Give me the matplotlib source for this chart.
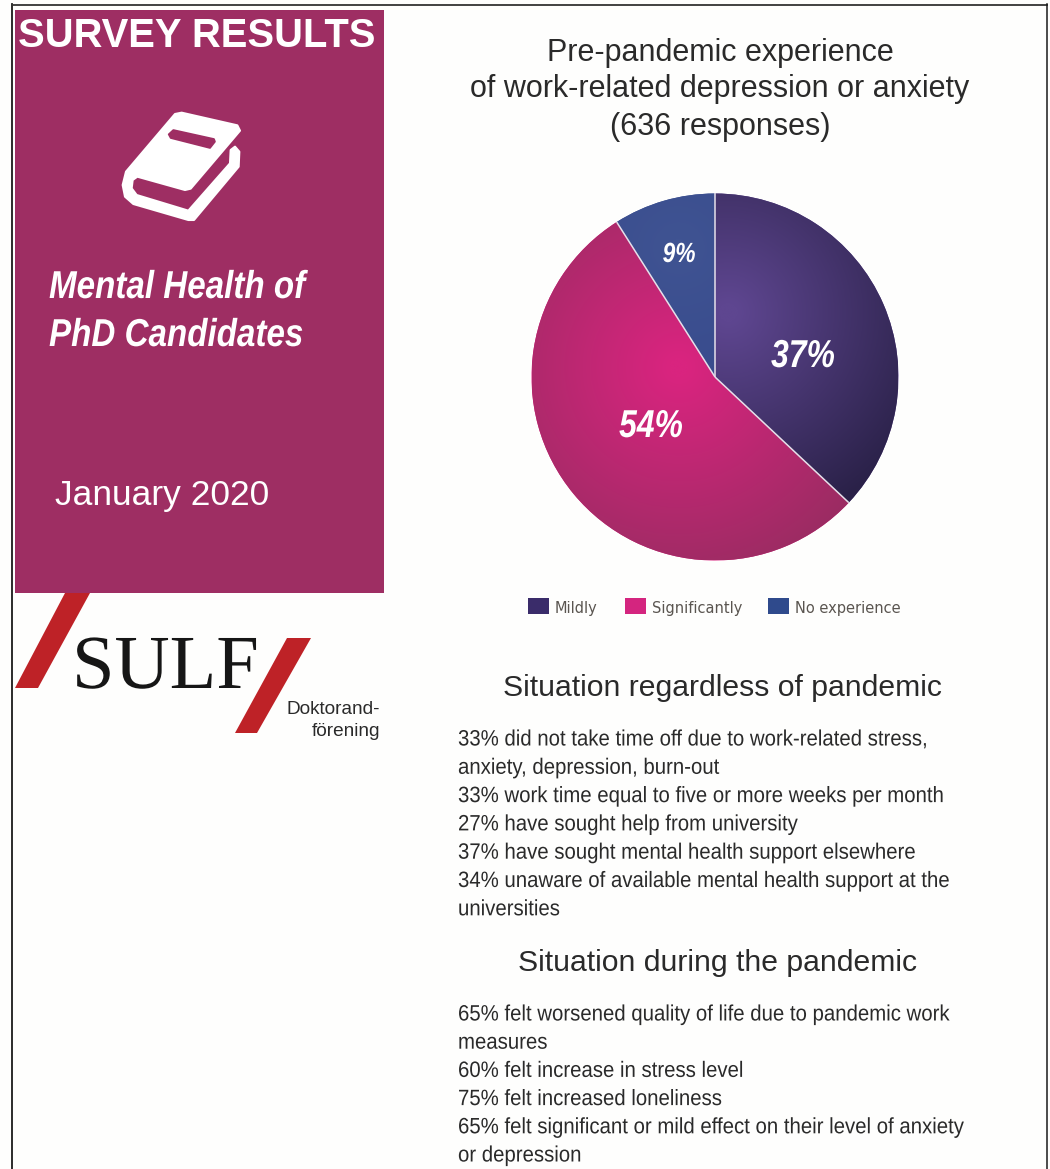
import numpy as np
import matplotlib
matplotlib.use("Agg")
import matplotlib.pyplot as plt
from matplotlib.patches import Polygon, Rectangle
from matplotlib.colors import LinearSegmentedColormap
from matplotlib.patheffects import AbstractPathEffect
from matplotlib.transforms import Affine2D

W, H = 1050, 1169

pie_labels = ["Mildly", "Significantly", "No experience"]
pie_values = [37, 54, 9]
pie_inner = ["#5E4690", "#D9247F", "#3F5392"]
pie_outer = ["#2A2148", "#9A2C62", "#34468A"]
pie_glow = [(0.07, 0.35), (-0.2, 0.05), (-0.2, 0.7)]
legend_colors = ["#3A2C6A", "#D4257F", "#2F4A8C"]

title_lines = ["Pre-pandemic experience", "of work-related depression or anxiety", "(636 responses)"]
regardless_lines = [
    "33% did not take time off due to work-related stress,",
    "anxiety, depression, burn-out",
    "33% work time equal to five or more weeks per month",
    "27% have sought help from university",
    "37% have sought mental health support elsewhere",
    "34% unaware of available mental health support at the",
    "universities",
]
during_lines = [
    "65% felt worsened quality of life due to pandemic work",
    "measures",
    "60% felt increase in stress level",
    "75% felt increased loneliness",
    "65% felt significant or mild effect on their level of anxiety",
    "or depression",
]


class Squeeze(AbstractPathEffect):
    """Narrow glyphs horizontally about a fixed pixel column."""

    def __init__(self, x0, sx):
        super().__init__()
        self.x0, self.sx = x0, sx

    def draw_path(self, renderer, gc, tpath, affine, rgbFace=None):
        squeezed = affine + Affine2D().translate(-self.x0, 0).scale(self.sx, 1).translate(self.x0, 0)
        renderer.draw_path(gc, tpath, squeezed, rgbFace)


plt.rcParams["font.family"] = ["Liberation Sans", "DejaVu Sans"]
fig = plt.figure(figsize=(W / 100, H / 100), dpi=100, facecolor="#FEFEFD")

# Page canvas in pixel coordinates with the origin at the top left
page = fig.add_axes([0, 0, 1, 1])
page.set_xlim(0, W)
page.set_ylim(H, 0)
page.axis("off")
page.set_zorder(2)

# Frame
FRAME = "#1A1A1A"
page.plot([12, 12], [4, H], color=FRAME, lw=1.3)
page.plot([12, 1047], [4.5, 4.5], color="#333333", lw=1.3)
page.plot([1047, 1047], [4, H], color=FRAME, lw=1.1)

# Title panel
PANEL = "#9E2E63"
page.add_patch(Rectangle((15, 10), 369, 583, color=PANEL, lw=0))
page.text(197, 36, "SURVEY RESULTS", color="white", fontsize=28.8, fontweight="bold", ha="center", va="center")
for y, line in zip([288, 336], ["Mental Health of", "PhD Candidates"]):
    page.text(49, y, line, color="white", fontsize=28, fontweight="bold", fontstyle="italic", va="center",
              path_effects=[Squeeze(49, 0.853)])
page.text(55, 496, "January 2020", color="white", fontsize=25.5, va="center")

# Book icon
book = np.array([(525, 342), (545, 338), (712, 376), (720, 392), (572, 566), (555, 570), (412, 530),
                 (398, 540), (395, 565), (410, 585), (565, 632), (690, 490), (692, 450), (705, 440),
                 (718, 455), (716, 500), (582, 660), (565, 660), (400, 612), (375, 590), (368, 555),
                 (378, 515)]) / 3
page.add_patch(Polygon(book, closed=True, fc="white", ec="white", lw=1.5, joinstyle="round"))
slot = np.array([(520, 390), (642, 417), (645, 425), (630, 444), (512, 414), (506, 403)]) / 3
page.add_patch(Polygon(slot, closed=True, fc=PANEL, ec=PANEL, lw=1.2, joinstyle="round"))

# Organisation logo
RED = "#BE2227"
slash_a = np.array([(65, 593), (90, 593), (38, 688), (15, 688)])
slash_b = np.array([(287, 638), (311, 638), (257, 733), (235, 733)])
page.add_patch(Polygon(slash_a, closed=True, color=RED, lw=0))
page.add_patch(Polygon(slash_b, closed=True, color=RED, lw=0))
page.text(72, 688, "SULF", family="Liberation Serif", fontsize=55, color="#161616", ha="left", va="baseline",
          path_effects=[Squeeze(72, 1.0)])
page.text(380, 709, "Doktorand-", fontsize=13.7, color="#2A2A2A", ha="right", va="center")
page.text(380, 732, "förening", fontsize=13.7, color="#2A2A2A", ha="right", va="center")

# Pie heading
for y, line in zip([53, 89, 127], title_lines):
    page.text(720, y, line, fontsize=22, color="#2A2A2A", ha="center", va="center")

# Pie with a radial shade inside each wedge
CX, CY, R = 715, 377, 183.5
pie_ax = fig.add_axes([(CX - R) / W, 1 - (CY + R) / H, 2 * R / W, 2 * R / H])
wedges, _ = pie_ax.pie(pie_values, startangle=90, counterclock=False, radius=1, center=(0, 0),
                       colors=pie_inner, wedgeprops=dict(edgecolor="none"))
gx, gy = np.meshgrid(np.linspace(-1, 1, 500), np.linspace(1, -1, 500))
for wedge, c0, c1, (hx, hy) in zip(wedges, pie_inner, pie_outer, pie_glow):
    cmap = LinearSegmentedColormap.from_list("shade", [c0, c1])
    im = pie_ax.imshow(np.hypot(gx - hx, gy - hy), extent=(-1, 1, -1, 1), cmap=cmap, vmin=0.05, vmax=1.2,
                       zorder=2, aspect="auto")
    im.set_clip_path(wedge)
    wedge.set_zorder(1)

# Thin pale separators along wedge boundaries
angle = 90.0
for value in pie_values:
    a = np.deg2rad(angle)
    pie_ax.plot([0, np.cos(a)], [0, np.sin(a)], color="#E6E0EA", lw=1.1, zorder=3, solid_capstyle="butt")
    angle -= value * 3.6
pie_ax.set_xlim(-1, 1)
pie_ax.set_ylim(-1, 1)

# Percent labels on the wedges
for (x, y, size), value in zip([(803, 357, 28), (651, 427, 28), (679, 255, 20)], pie_values):
    page.text(x, y, f"{value}%", color="white", fontsize=size, fontweight="bold", fontstyle="italic",
              ha="center", va="center", zorder=5, path_effects=[Squeeze(x, 0.82)])

# Legend
for sx, tx, label, color in zip([528, 625, 768], [555, 652, 795], pie_labels, legend_colors):
    page.add_patch(Rectangle((sx, 598), 21, 16, color=color, lw=0))
    page.text(tx, 608, label, fontsize=10.5, family="DejaVu Sans", color="#5A5550", va="center")

# Text blocks
BODY_X = 458
BODY_COLOR = "#2A2A2A"
page.text(722.5, 688, "Situation regardless of pandemic", fontsize=21.7, color=BODY_COLOR, ha="center", va="center")
for i, line in enumerate(regardless_lines):
    page.text(BODY_X, 740 + i * 28.3, line, fontsize=16, color=BODY_COLOR, va="center",
              path_effects=[Squeeze(BODY_X, 0.917)])
page.text(717, 963, "Situation during the pandemic", fontsize=21.7, color=BODY_COLOR, ha="center", va="center")
for i, line in enumerate(during_lines):
    page.text(BODY_X, 1015 + i * 28.2, line, fontsize=16, color=BODY_COLOR, va="center",
              path_effects=[Squeeze(BODY_X, 0.917)])

fig.savefig("out.png", dpi=100, facecolor=fig.get_facecolor())
